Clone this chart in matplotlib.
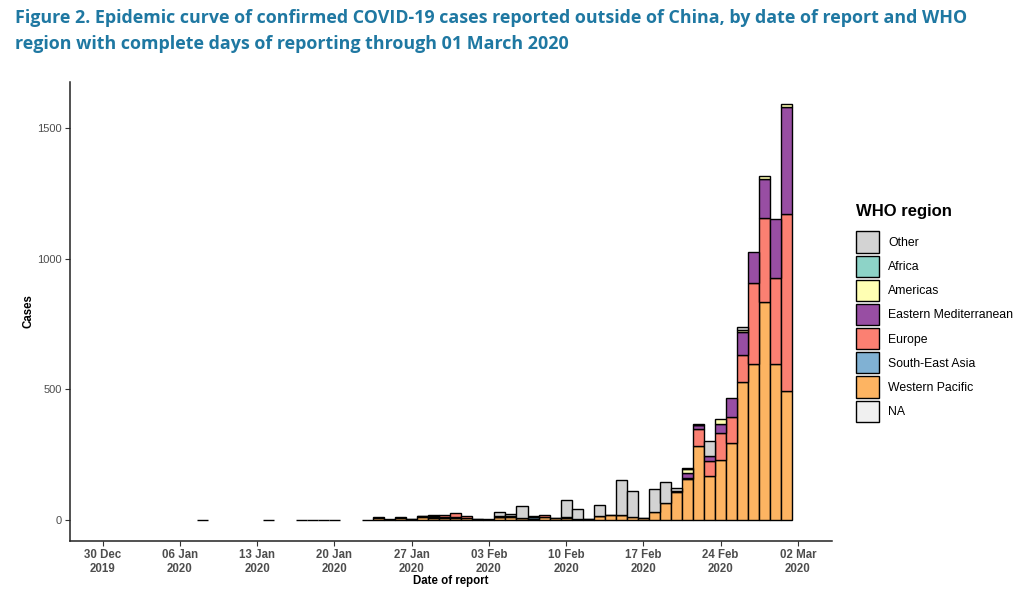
import matplotlib
matplotlib.use("Agg")
import matplotlib.pyplot as plt
import matplotlib.dates as mdates
from matplotlib.patches import Patch
import numpy as np
import datetime as dt

# ---------------- data ----------------
dates = ["2020-01-08", "2020-01-14", "2020-01-17", "2020-01-18", "2020-01-19", "2020-01-20",
         "2020-01-23", "2020-01-24", "2020-01-25", "2020-01-26", "2020-01-27", "2020-01-28",
         "2020-01-29", "2020-01-30", "2020-01-31", "2020-02-01", "2020-02-02", "2020-02-03",
         "2020-02-04", "2020-02-05", "2020-02-06", "2020-02-07", "2020-02-08", "2020-02-09",
         "2020-02-10", "2020-02-11", "2020-02-12", "2020-02-13", "2020-02-14", "2020-02-15",
         "2020-02-16", "2020-02-17", "2020-02-18", "2020-02-19", "2020-02-20", "2020-02-21",
         "2020-02-22", "2020-02-23", "2020-02-24", "2020-02-25", "2020-02-26", "2020-02-27",
         "2020-02-28", "2020-02-29", "2020-03-01"]

western_pacific = [1, 1, 1, 1, 1, 1,
                   1, 8, 3, 9, 5, 12,
                   9, 9, 9, 9, 4, 3,
                   10, 12, 7, 6, 13, 7,
                   7, 3, 3, 14, 19, 18,
                   10, 8, 30, 66, 108, 158,
                   285, 170, 229, 295, 527, 599,
                   836, 597, 495]
south_east_asia = [0, 0, 0, 0, 0, 0,
                   0, 0, 0, 0, 0, 0,
                   2, 2, 4, 0, 0, 0,
                   2, 0, 0, 4, 0, 0,
                   0, 0, 0, 0, 0, 0,
                   0, 0, 0, 0, 0, 0,
                   0, 0, 0, 0, 0, 0,
                   0, 0, 0]
europe = [0, 0, 0, 0, 0, 0,
          0, 2, 0, 0, 1, 4,
          6, 8, 14, 8, 1, 0,
          5, 3, 2, 3, 5, 2,
          3, 2, 1, 1, 1, 1,
          0, 1, 0, 0, 0, 4,
          63, 56, 106, 101, 104, 309,
          320, 330, 676]
eastern_mediterranean = [0, 0, 0, 0, 0, 0,
                         0, 0, 0, 0, 0, 0,
                         0, 0, 0, 0, 0, 0,
                         0, 0, 0, 0, 0, 0,
                         0, 0, 0, 0, 0, 0,
                         0, 0, 0, 0, 2, 18,
                         14, 18, 33, 71, 90, 117,
                         150, 226, 410]
americas = [0, 0, 0, 0, 0, 0,
            0, 0, 0, 2, 0, 1,
            2, 0, 0, 0, 0, 0,
            0, 0, 0, 2, 0, 0,
            0, 0, 0, 0, 0, 0,
            0, 0, 0, 0, 0, 16,
            2, 0, 19, 0, 8, 0,
            12, 0, 9]
africa = [0] * 45
other = [0, 0, 0, 0, 0, 0,
         0, 0, 0, 0, 0, 0,
         0, 0, 0, 0, 0, 0,
         13, 10, 44, 0, 0, 0,
         67, 37, 0, 41, 0, 136,
         100, 0, 90, 80, 14, 5,
         2, 58, 0, 0, 8, 0,
         0, 0, 0]
not_available = [0] * 45

regions = ["Other", "Africa", "Americas", "Eastern Mediterranean", "Europe",
           "South-East Asia", "Western Pacific", "NA"]
region_values = {
    "Other": other, "Africa": africa, "Americas": americas,
    "Eastern Mediterranean": eastern_mediterranean, "Europe": europe,
    "South-East Asia": south_east_asia, "Western Pacific": western_pacific,
    "NA": not_available,
}
region_colors = {
    "Other": "#D3D3D3", "Africa": "#8DD3C7", "Americas": "#FFFFB3",
    "Eastern Mediterranean": "#984EA3", "Europe": "#FB8072",
    "South-East Asia": "#80B1D3", "Western Pacific": "#FDB462", "NA": "#F0F0F0",
}

tick_dates = ["2019-12-30", "2020-01-06", "2020-01-13", "2020-01-20", "2020-01-27",
              "2020-02-03", "2020-02-10", "2020-02-17", "2020-02-24", "2020-03-02"]
tick_labels = ["30 Dec\n2019", "06 Jan\n2020", "13 Jan\n2020", "20 Jan\n2020", "27 Jan\n2020",
               "03 Feb\n2020", "10 Feb\n2020", "17 Feb\n2020", "24 Feb\n2020", "02 Mar\n2020"]
y_ticks = [0, 500, 1000, 1500]

title = ("Figure 2. Epidemic curve of confirmed COVID-19 cases reported outside of China, by date of report and WHO\n"
         "region with complete days of reporting through 01 March 2020")

SANS = ["Liberation Sans", "DejaVu Sans"]

# ---------------- figure ----------------
W, H = 1024, 589
fig = plt.figure(figsize=(W / 100, H / 100), dpi=100)
fig.patch.set_facecolor("white")

ax_l, ax_r, ax_t, ax_b = 70, 832, 82, 541
ax = fig.add_axes([ax_l / W, 1 - ax_b / H, (ax_r - ax_l) / W, (ax_b - ax_t) / H])

x = mdates.date2num([dt.datetime.strptime(d, "%Y-%m-%d") for d in dates])
bottom = np.zeros(len(x))
for reg in reversed(regions):
    vals = np.array(region_values[reg], dtype=float)
    m = vals > 0
    if m.any():
        ax.bar(x[m], vals[m], width=1.0, bottom=bottom[m], color=region_colors[reg],
               edgecolor="black", linewidth=1.0, zorder=2)
    bottom += vals

x0 = mdates.date2num(dt.datetime(2019, 12, 30))
ax.set_xlim(x0 - 2.97, x0 + 66.1)
ax.set_ylim(-80, 1676)

xt = mdates.date2num([dt.datetime.strptime(d, "%Y-%m-%d") for d in tick_dates])
ax.set_xticks(xt)
ax.set_xticklabels(tick_labels, fontsize=8.3, fontweight="bold", color="#4D4D4D",
                   family=SANS, linespacing=1.15)
ax.set_yticks(y_ticks)
ax.set_yticklabels([str(v) for v in y_ticks], fontsize=8.0, color="#4D4D4D", family=SANS)
ax.tick_params(axis="both", length=3.5, width=0.8, color="#333333", pad=2.5)

for s in ["top", "right"]:
    ax.spines[s].set_visible(False)
for s in ["left", "bottom"]:
    ax.spines[s].set_linewidth(1.1)
    ax.spines[s].set_color("#222222")

ax.set_xlabel("Date of report", fontsize=8.3, fontweight="bold", family=SANS, labelpad=0)
ax.set_ylabel("Cases", fontsize=8.3, fontweight="bold", family=SANS, labelpad=2)

# legend
handles = [Patch(facecolor=region_colors[r], edgecolor="black", linewidth=1.0) for r in regions]
leg = fig.legend(handles, regions, loc="upper left",
                 bbox_to_anchor=(856 / W, 1 - 204 / H), frameon=False,
                 title="WHO region", handlelength=1.9, handleheight=2.28,
                 labelspacing=0.25, handletextpad=0.75, borderaxespad=0, borderpad=0,
                 prop={"family": SANS, "size": 8.8})
leg.get_title().set_fontweight("bold")
leg.get_title().set_fontsize(12)
leg.get_title().set_family(SANS)
leg._legend_box.align = "left"
leg._legend_box.sep = 9

# title
t = fig.text(15 / W, 1 - 9 / H, title, ha="left", va="top", fontsize=13.5,
             fontweight="bold", color="#1F78A2",
             family=["Open Sans", "DejaVu Sans"], linespacing=1.6)
fig.canvas.draw()
bb = t.get_window_extent(fig.canvas.get_renderer())
t.set_fontsize(13.5 * 960 / bb.width)

fig.savefig("out.png", dpi=100, facecolor="white")
